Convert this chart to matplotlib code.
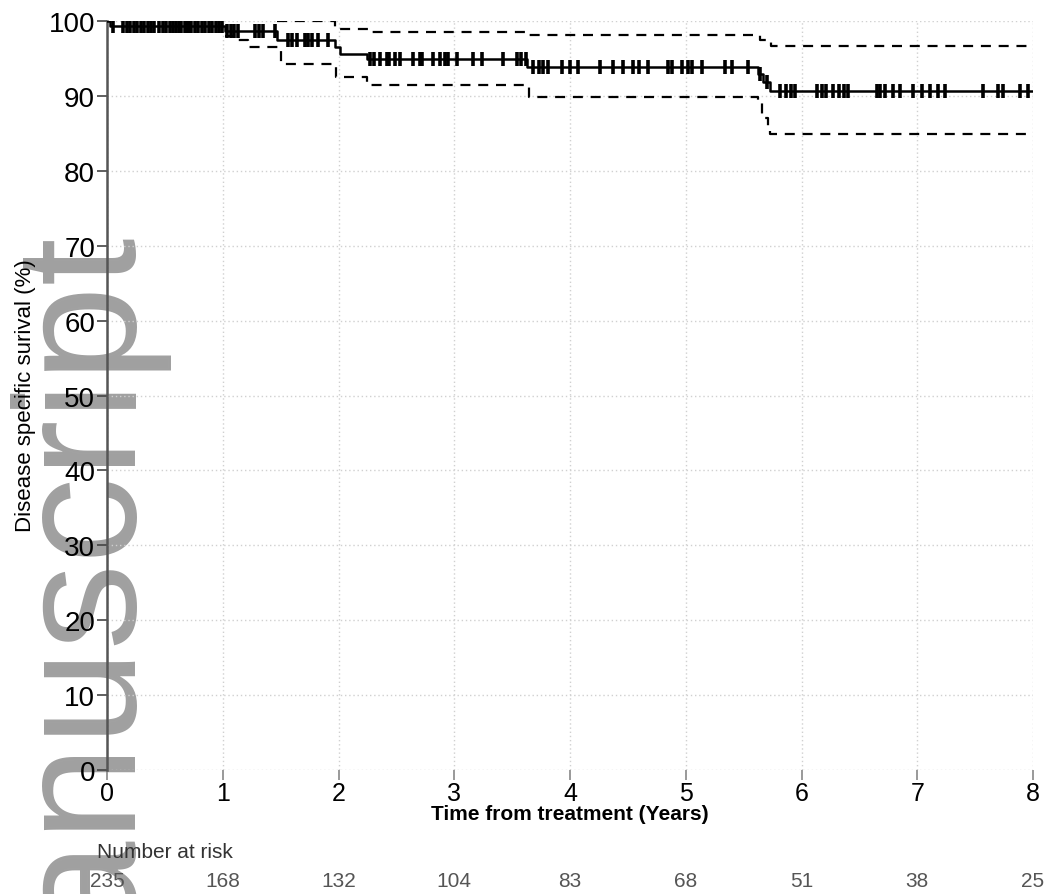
import numpy as np
import matplotlib
matplotlib.use('Agg')
import matplotlib.pyplot as plt
from matplotlib.transforms import blended_transform_factory

plt.rcParams['font.family'] = ['Liberation Sans', 'DejaVu Sans']

# Kaplan-Meier estimate (time in years, survival %)
km_times = [0.0, 0.03, 1.02, 1.47, 1.97, 2.01, 2.25, 3.63, 5.62, 5.67, 5.73, 8.0]
km_surv = [100.0, 99.3, 98.7, 97.4, 96.5, 95.6, 94.9, 93.8, 92.9, 91.8, 90.6, 90.6]

# 95% confidence bounds
up_times = [1.47, 1.97, 2.27, 3.63, 5.64, 5.74, 8.0]
up_vals = [100.0, 98.9, 98.5, 98.1, 97.4, 96.7, 96.7]
lo_times = [1.02, 1.12, 1.22, 1.50, 1.98, 2.25, 3.65, 5.62, 5.66, 5.71, 5.73, 8.0]
lo_vals = [98.0, 97.4, 96.5, 94.3, 92.5, 91.4, 89.8, 89.0, 87.1, 85.4, 84.9, 84.9]

# censoring times
censor_times = [0.05, 0.14, 0.17, 0.20, 0.23, 0.26, 0.29, 0.32, 0.35, 0.38, 0.41,
                0.45, 0.48, 0.51, 0.54, 0.57, 0.60, 0.62, 0.64, 0.67, 0.69, 0.71,
                0.73, 0.76, 0.79, 0.82, 0.85, 0.88, 0.91, 0.94, 0.97, 0.99,
                1.04, 1.07, 1.10, 1.13, 1.28, 1.31, 1.35, 1.45,
                1.56, 1.60, 1.64, 1.71, 1.74, 1.77, 1.82, 1.91,
                2.27, 2.31, 2.36, 2.42, 2.44, 2.49, 2.53, 2.64, 2.70, 2.72,
                2.82, 2.88, 2.92, 2.95, 3.02, 3.16, 3.24, 3.42, 3.54, 3.58, 3.62,
                3.68, 3.73, 3.77, 3.81, 3.93, 4.00, 4.07, 4.26, 4.37, 4.46,
                4.54, 4.60, 4.67, 4.85, 4.88, 4.97, 5.02, 5.05, 5.14, 5.34,
                5.40, 5.54, 5.64, 5.70,
                5.81, 5.87, 5.91, 5.94, 6.13, 6.18, 6.21, 6.27, 6.32, 6.37,
                6.40, 6.65, 6.68, 6.72, 6.79, 6.85, 6.96, 7.04, 7.11, 7.18,
                7.24, 7.57, 7.70, 7.74, 7.89, 7.96]

# number at risk
risk_times = [0, 1, 2, 3, 4, 5, 6, 7, 8]
risk_counts = [235, 168, 132, 104, 83, 68, 51, 38, 25]

W, H = 1050, 895
fig = plt.figure(figsize=(W / 100, H / 100), dpi=100)

# watermark
fig.text(122 / W, 1 - 222 / H, 'Manuscript', rotation=90, rotation_mode='anchor',
         ha='right', va='baseline', fontsize=124, color='#a0a0a0', zorder=-5)

ax = fig.add_axes([107 / W, 1 - 771 / H, (1033 - 107) / W, (771 - 22) / H])
ax.patch.set_visible(False)
ax.set_xlim(0, 8)
ax.set_ylim(0, 100)

for s in ['top', 'right', 'bottom']:
    ax.spines[s].set_visible(False)
ax.spines['left'].set_color('#555555')
ax.spines['left'].set_linewidth(1.8)

ax.set_xticks(risk_times)
ax.set_yticks(range(0, 101, 10))
ax.tick_params(axis='y', direction='out', length=7, width=1.2, color='#444444',
               pad=1.5, labelsize=20)
ax.tick_params(axis='x', direction='out', length=7, width=1.2, color='#888888',
               pad=1, labelsize=18)
ax.grid(True, color='#d0d0d0', linestyle=(0, (1, 2)), linewidth=1)
ax.set_axisbelow(True)

ax.step(km_times, km_surv, where='post', color='black', lw=1.8, zorder=3)
ax.step(up_times, up_vals, where='post', color='black', lw=1.6,
        linestyle=(0, (4.5, 3.5)), zorder=3)
ax.step(lo_times, lo_vals, where='post', color='black', lw=1.6,
        linestyle=(0, (4.5, 3.5)), zorder=3)

kt = np.array(km_times)
ks = np.array(km_surv)
ct = np.array(censor_times)
cy = ks[np.searchsorted(kt, ct, side='right') - 1]
ax.plot(ct, cy, linestyle='none', marker='|', markersize=9.5, mew=2.6,
        color='black', zorder=4)

fig.text(570 / W, 1 - 815 / H, 'Time from treatment (Years)', ha='center',
         va='center', fontsize=15, fontweight='bold')
fig.text(26 / W, 1 - 396 / H, 'Disease specific surival (%)', rotation=90,
         ha='center', va='center', fontsize=16)

fig.text(97 / W, 1 - 853 / H, 'Number at risk', ha='left', va='center',
         fontsize=15, color='#333333')
tr = blended_transform_factory(ax.transData, fig.transFigure)
for t, n in zip(risk_times, risk_counts):
    ax.text(t, 1 - 882 / H, str(n), transform=tr, ha='center', va='center',
            fontsize=15, color='#555555', clip_on=False)

fig.savefig('out.png', dpi=100)
